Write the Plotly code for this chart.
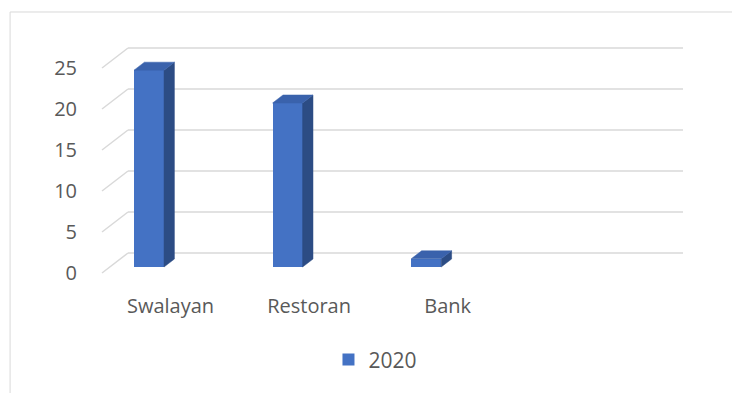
import plotly.graph_objects as go

categories = ["Swalayan", "Restoran", "Bank"]
values_2020 = [24, 20, 1]
series_name = "2020"
y_ticks = [0, 5, 10, 15, 20, 25]

# pseudo-3D geometry (in axis units)
BAR_W = 0.2165          # front face width (category units)
DEPTH_X = 0.1876        # full wall depth, horizontal (category units)
DEPTH_Y = 2.44          # full wall depth, vertical (value units)
BAR_T0, BAR_T1 = 0.3, 0.7   # bar depth span within the wall
WALL_X0, WALL_X1 = -0.1515, 3.853
LABEL_SHIFT = 0.155

FRONT = "#4472C4"
TOP = "#3A62AC"
SIDE = "#2C4C84"
GRID = "#D9D9D9"
TEXT = "#595959"

def proj(x, v, t):
    return x + (t - BAR_T0) * DEPTH_X, v + (t - BAR_T0) * DEPTH_Y

fig = go.Figure()

# front faces
fig.add_trace(go.Bar(
    x=list(range(len(categories))), y=values_2020, width=BAR_W, base=0,
    marker=dict(color=FRONT, line=dict(width=0)), name=series_name,
    showlegend=False,
))

# side and top faces
for i, v in enumerate(values_2020):
    xl, xr = i - BAR_W / 2, i + BAR_W / 2
    pts_side = [proj(xr, 0, BAR_T0), proj(xr, 0, BAR_T1), proj(xr, v, BAR_T1), proj(xr, v, BAR_T0)]
    pts_top = [proj(xl, v, BAR_T0), proj(xr, v, BAR_T0), proj(xr, v, BAR_T1), proj(xl, v, BAR_T1)]
    for pts, col in ((pts_side, SIDE), (pts_top, TOP)):
        xs = [p[0] for p in pts] + [pts[0][0]]
        ys = [p[1] for p in pts] + [pts[0][1]]
        fig.add_trace(go.Scatter(x=xs, y=ys, fill="toself", fillcolor=col, mode="lines",
                                 line=dict(width=0.5, color=col), showlegend=False, hoverinfo="skip"))

# legend entry for the series
fig.add_trace(go.Scatter(x=[None], y=[None], mode="markers", name=series_name,
                         marker=dict(symbol="square", size=12, color=FRONT), showlegend=True))

# wall gridlines as shapes below traces
shapes = []
for v in y_ticks:
    bx, by = proj(WALL_X0 - (1 - BAR_T0) * DEPTH_X, v, 1)
    fx, fy = proj(WALL_X0 - (1 - BAR_T0) * DEPTH_X, v, 0)
    shapes.append(dict(type="line", xref="x", yref="y", x0=fx, y0=fy, x1=bx, y1=by,
                       line=dict(color=GRID, width=1.5), layer="below"))
    ex, ey = proj(WALL_X1 - (1 - BAR_T0) * DEPTH_X, v, 1)
    shapes.append(dict(type="line", xref="x", yref="y", x0=bx, y0=by, x1=ex, y1=ey,
                       line=dict(color=GRID, width=1.5), layer="below"))

# chart border
shapes.append(dict(type="rect", xref="paper", yref="paper", x0=-0.131, y0=-0.6, x1=1.3, y1=1.0706,
                   line=dict(color=GRID, width=1), layer="below"))

front_zero_offset = -BAR_T0 * DEPTH_Y
fig.update_layout(
    width=732, height=393,
    margin=dict(l=90, r=32, t=30, b=108),
    paper_bgcolor="white", plot_bgcolor="white",
    font=dict(family="Open Sans", size=20, color=TEXT),
    shapes=shapes,
    xaxis=dict(range=[-0.4257, 3.9755], showgrid=False, zeroline=False, showline=False,
               tickmode="array", tickvals=[i + LABEL_SHIFT for i in range(len(categories))],
               ticktext=categories, ticks="outside", ticklen=3, tickcolor="rgba(0,0,0,0)"),
    yaxis=dict(range=[-2.195, 28.90], showgrid=False, zeroline=False, showline=False,
               tickmode="array", tickvals=[v + front_zero_offset for v in y_ticks],
               ticktext=[str(v) for v in y_ticks], ticks="outside", ticklen=8,
               tickcolor="rgba(0,0,0,0)"),
    legend=dict(orientation="h", x=0.468, xanchor="center", y=-0.294, yanchor="middle",
                itemwidth=30, font=dict(size=21, color=TEXT)),
    bargap=0,
)

fig.write_html("out.html")
